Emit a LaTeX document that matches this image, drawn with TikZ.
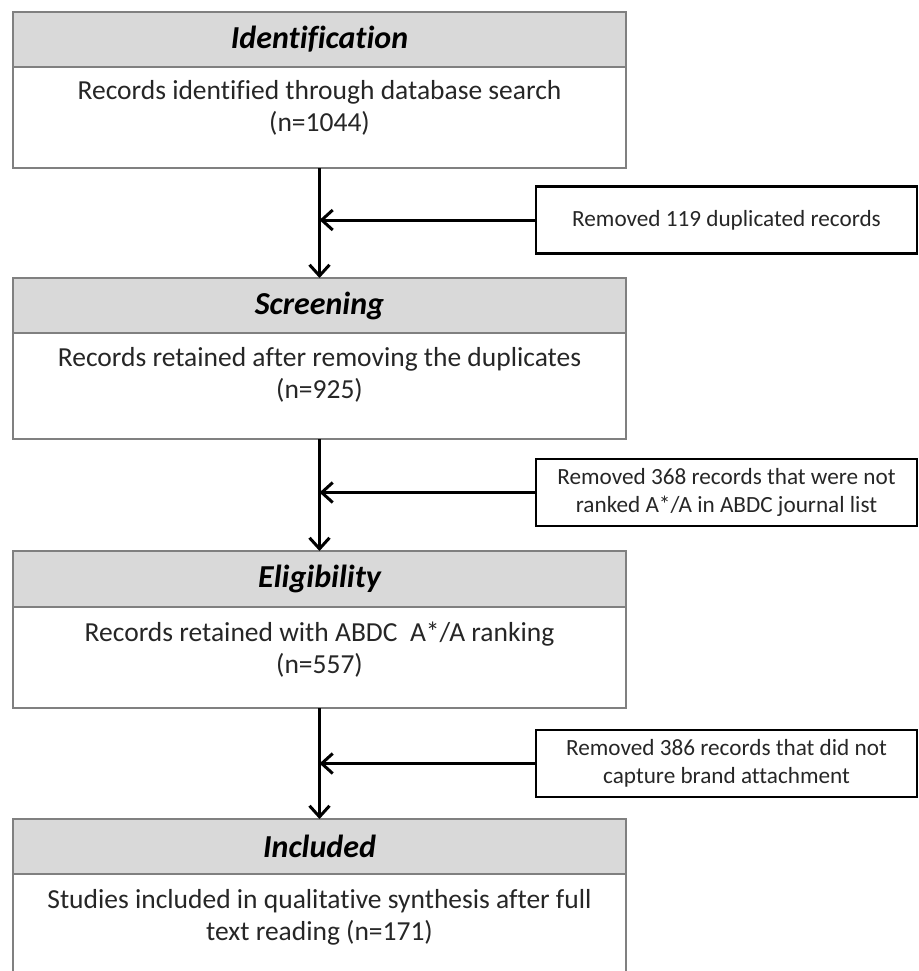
\documentclass[tikz,border=0pt]{standalone}
\usepackage{fontspec}
\setmainfont{Carlito}[Ligatures=NoCommon]
\usetikzlibrary{positioning,arrows.meta}

\begin{document}
\begin{tikzpicture}[
	x=0.5pt, y=-0.5pt,
	head/.style={ draw=black!50, line width=1pt, fill=black!15, outer sep=0pt, minimum width=306.5pt, minimum height=27.5pt, inner sep=0pt, font=\fontsize{16}{19}\selectfont\bfseries\itshape },
	body/.style={ draw=black!50, line width=1pt, outer sep=0pt, minimum width=306.5pt, minimum height=50.5pt, inner sep=0pt },
	info/.style={ align=center, inner sep=0pt, text=black!85, font=\fontsize{13.75}{16}\selectfont },
	removed/.style={ draw, line width=1.3pt, minimum width=190.5pt, minimum height=33.5pt, inner sep=0pt, align=center, text=black!85, font=\fontsize{11.6}{13.8}\selectfont },
	flow/.style={ line width=1.5pt, -{Straight Barb[length=5.5pt,width=10pt,line width=1.5pt]} },
]
\useasboundingbox (0,0) rectangle (919,971);

\node at (319.5,39.5) (idh) [head] {Identification};
\node (idb) [body, below=0pt of idh] {};
\node at ([yshift=-20.5pt]idh.south) (idt) [info] {Records identified through database search\\(n=1044)};

\node at (319.5,305.5) (scrh) [head] {Screening};
\node (scrb) [body, below=0pt of scrh, minimum height=53pt] {};
\node at ([yshift=-21pt]scrh.south) (scrt) [info] {Records retained after removing the duplicates\\(n=925)};

\node at (319.5,579) (elih) [head, minimum height=28pt] {Eligibility};
\node (elib) [body, below=0pt of elih] {};
\node at ([yshift=-21.5pt]elih.south) (elit) [info] {Records retained with ABDC\ \ A*/A ranking\\(n=557)};

\node at (319.5,846.5) (inch) [head] {Included};
\node (incb) [body, below=0pt of inch] {};
\node at ([yshift=-21.5pt]inch.south) (inct) [info] {Studies included in qualitative synthesis after full\\text reading (n=171)};

\node at (726.5,220) (dup) [removed] {Removed 119 duplicated records};
\node at (726.5,492.5) (rank) [removed] {Removed 368 records that were not\\ranked A*/A in ABDC journal list};
\node at (726.5,763.5) (brand) [removed] {Removed 386 records that did not\\capture brand attachment};

\draw[flow] (idb) to (scrh);
\draw[flow] (scrb) to (elih);
\draw[flow] (elib) to (inch);
\foreach \r/\b in {dup/idb,rank/scrb,brand/elib} {
	\draw[flow] (\r.west) to (\r.west -| \b.south);
}

\end{tikzpicture}
\end{document}
